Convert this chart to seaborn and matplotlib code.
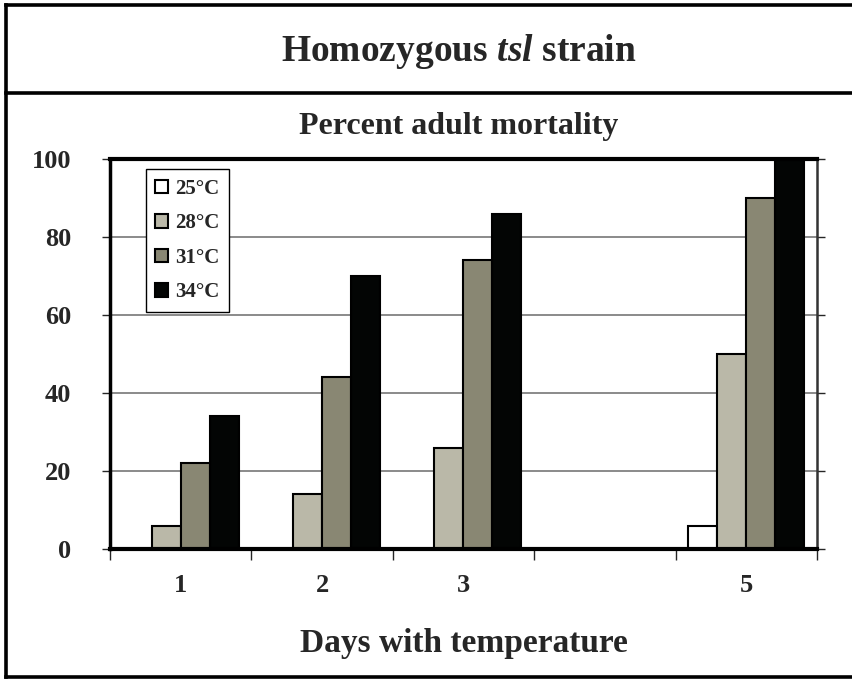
import pandas as pd
import matplotlib.pyplot as plt
import seaborn as sns
from matplotlib.lines import Line2D

# Values
days = ["1", "2", "3", "4", "5"]
day_labels = ["1", "2", "3", "", "5"]
temps = ["25°C", "28°C", "31°C", "34°C"]
mort_25 = [0, 0, 0, 0, 6]
mort_28 = [6, 14, 26, 0, 50]
mort_31 = [22, 44, 74, 0, 90]
mort_34 = [34, 70, 86, 0, 100]
bar_colors = ["#ffffff", "#bab8a8", "#898773", "#030504"]

rows = []
for t, vals in zip(temps, [mort_25, mort_28, mort_31, mort_34]):
    for d, v in zip(days, vals):
        rows.append({"Day": d, "Temp": t, "Mortality": v})
df = pd.DataFrame(rows)

sns.set_style("white")
plt.rcParams['font.family'] = ['Liberation Serif', 'DejaVu Serif']
plt.rcParams['font.weight'] = 'bold'
plt.rcParams['mathtext.fontset'] = 'custom'
plt.rcParams['mathtext.it'] = 'Liberation Serif:italic:bold'
plt.rcParams['mathtext.rm'] = 'Liberation Serif:bold'

fig = plt.figure(figsize=(8.52, 6.82), dpi=100)

# outer frame (open on the right) and title separator
for xs, ys in [([0.007, 0.007], [0.007, 0.993]),
               ([0.007, 1.0], [0.993, 0.993]),
               ([0.007, 1.0], [0.007, 0.007]),
               ([0.007, 1.0], [0.864, 0.864])]:
    fig.add_artist(Line2D(xs, ys, transform=fig.transFigure, color='black',
                          linewidth=2.6, solid_capstyle='projecting'))

fig.text(0.538, 0.924, "Homozygous $tsl$ strain", ha='center', va='center',
         fontsize=27, fontweight='bold')
fig.text(0.538, 0.814, "Percent adult mortality", ha='center', va='center',
         fontsize=23, fontweight='bold')

ax = fig.add_axes([0.129, 0.195, 0.830, 0.572])
sns.barplot(data=df, x="Day", y="Mortality", hue="Temp", order=days, hue_order=temps,
            palette=bar_colors, edgecolor='black', linewidth=1.5, width=0.82,
            saturation=1, ax=ax)

ax.set_ylim(0, 100)
ax.set_xlim(-0.5, 4.5)
ax.set_yticks([0, 20, 40, 60, 80, 100])
ax.set_yticklabels(["0", "20", "40", "60", "80", "100"], fontsize=19, fontweight='bold')
ax.yaxis.grid(True, color='#777777', linewidth=1.2)
ax.set_axisbelow(True)
ax.tick_params(axis='y', direction='out', length=6, width=1, pad=22, left=True, right=True)

# group boundary ticks, labels at group centres
ax.set_xticks([-0.5, 0.5, 1.5, 2.5, 3.5, 4.5])
ax.set_xticklabels([])
ax.set_xticks(range(len(days)), minor=True)
ax.set_xticklabels(day_labels, minor=True, fontsize=19, fontweight='bold')
ax.tick_params(axis='x', which='major', direction='out', length=8, width=1, bottom=True)
ax.tick_params(axis='x', which='minor', length=0, pad=18)

ax.set_xlabel("Days with temperature", fontsize=24, fontweight='bold', labelpad=22)
ax.set_ylabel("")

for side in ['top', 'left', 'bottom']:
    ax.spines[side].set_color('black')
ax.spines['top'].set_linewidth(3)
ax.spines['left'].set_linewidth(2.5)
ax.spines['bottom'].set_linewidth(3)
ax.spines['right'].set_color('#333333')
ax.spines['right'].set_linewidth(1.8)

leg = ax.legend(loc='upper left', bbox_to_anchor=(0.036, 1.0), frameon=True,
                fancybox=False, edgecolor='black', framealpha=1,
                prop={'family': 'Liberation Serif', 'weight': 'bold', 'size': 15},
                handlelength=0.6, handleheight=0.6, handletextpad=0.35,
                labelspacing=0.7, borderpad=0.45)
leg.get_frame().set_linewidth(1.0)

fig.savefig("out.png", dpi=100)
